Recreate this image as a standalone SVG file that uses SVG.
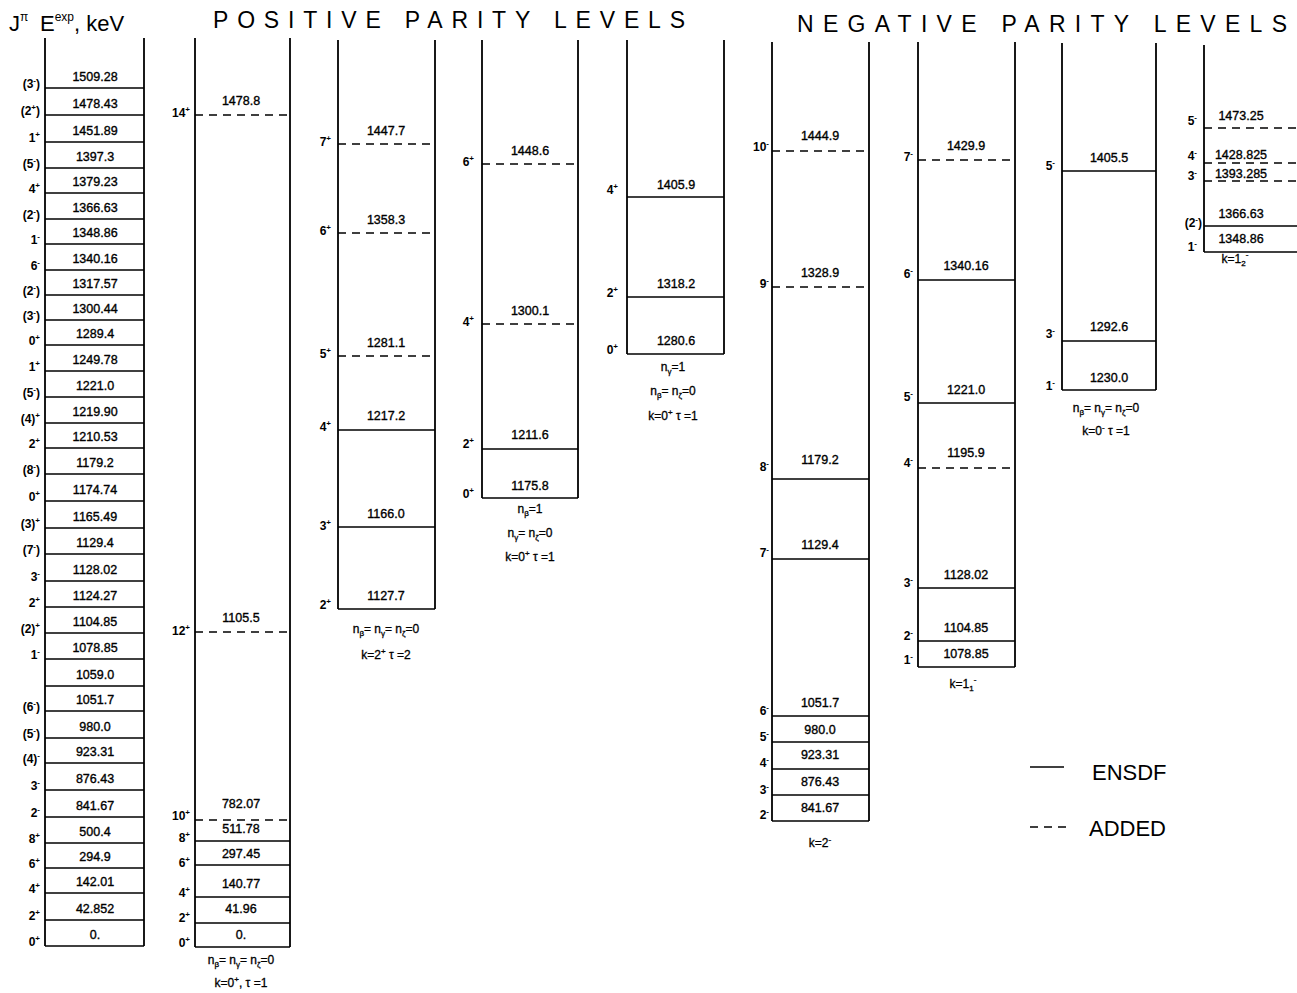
<svg xmlns="http://www.w3.org/2000/svg" width="1297" height="993" viewBox="0 0 1297 993">
<style>
.v{stroke:#000;stroke-width:1.8;fill:none}
.s{stroke:#000;stroke-width:1.6}
.d{stroke:#000;stroke-width:1.6;stroke-dasharray:8 6}
text{font-family:"Liberation Sans",Arial,sans-serif;fill:#000}
.e{font-size:12.5px;text-anchor:middle;stroke:#000;stroke-width:0.35}
.j{font-size:12px;font-weight:bold;text-anchor:end}
.b{font-size:12px;text-anchor:middle;stroke:#000;stroke-width:0.3}
.t{font-size:23px}
.h{font-size:22px}
.l{font-size:22px}
</style>
<rect width="1297" height="993" fill="#fff"/>
<g id="titles">
<text class="h" x="9" y="31">J<tspan dy="-10" font-size="12">π</tspan><tspan x="40" dy="10">E</tspan><tspan dy="-10" font-size="12">exp</tspan><tspan dy="10">, keV</tspan></text>
<text class="t" x="213" y="28" textLength="472" lengthAdjust="spacing">POSITIVE PARITY LEVELS</text>
<text class="t" x="797" y="32" textLength="490" lengthAdjust="spacing">NEGATIVE PARITY LEVELS</text>
</g>
<g id="experimental">
<line class="v" x1="45" y1="38" x2="45" y2="946"/>
<line class="v" x1="144" y1="38" x2="144" y2="946"/>
<g class="s">
<line x1="45" y1="88" x2="144" y2="88"/><line x1="45" y1="115" x2="144" y2="115"/><line x1="45" y1="142" x2="144" y2="142"/><line x1="45" y1="168" x2="144" y2="168"/><line x1="45" y1="193" x2="144" y2="193"/><line x1="45" y1="219" x2="144" y2="219"/><line x1="45" y1="244" x2="144" y2="244"/><line x1="45" y1="270" x2="144" y2="270"/><line x1="45" y1="295" x2="144" y2="295"/><line x1="45" y1="320" x2="144" y2="320"/><line x1="45" y1="345" x2="144" y2="345"/><line x1="45" y1="371" x2="144" y2="371"/><line x1="45" y1="397" x2="144" y2="397"/><line x1="45" y1="423" x2="144" y2="423"/><line x1="45" y1="448" x2="144" y2="448"/><line x1="45" y1="474" x2="144" y2="474"/><line x1="45" y1="501" x2="144" y2="501"/><line x1="45" y1="528" x2="144" y2="528"/><line x1="45" y1="554" x2="144" y2="554"/><line x1="45" y1="581" x2="144" y2="581"/><line x1="45" y1="607" x2="144" y2="607"/><line x1="45" y1="633" x2="144" y2="633"/><line x1="45" y1="659" x2="144" y2="659"/><line x1="45" y1="686" x2="144" y2="686"/><line x1="45" y1="711" x2="144" y2="711"/><line x1="45" y1="738" x2="144" y2="738"/><line x1="45" y1="763" x2="144" y2="763"/><line x1="45" y1="790" x2="144" y2="790"/><line x1="45" y1="817" x2="144" y2="817"/><line x1="45" y1="843" x2="144" y2="843"/><line x1="45" y1="868" x2="144" y2="868"/><line x1="45" y1="893" x2="144" y2="893"/><line x1="45" y1="920" x2="144" y2="920"/><line x1="45" y1="946" x2="144" y2="946"/>
</g>
<g class="e">
<text x="95" y="81">1509.28</text><text x="95" y="108">1478.43</text><text x="95" y="135">1451.89</text><text x="95" y="161">1397.3</text><text x="95" y="186">1379.23</text><text x="95" y="212">1366.63</text><text x="95" y="237">1348.86</text><text x="95" y="263">1340.16</text><text x="95" y="288">1317.57</text><text x="95" y="313">1300.44</text><text x="95" y="338">1289.4</text><text x="95" y="364">1249.78</text><text x="95" y="390">1221.0</text><text x="95" y="416">1219.90</text><text x="95" y="441">1210.53</text><text x="95" y="467">1179.2</text><text x="95" y="494">1174.74</text><text x="95" y="521">1165.49</text><text x="95" y="547">1129.4</text><text x="95" y="574">1128.02</text><text x="95" y="600">1124.27</text><text x="95" y="626">1104.85</text><text x="95" y="652">1078.85</text><text x="95" y="679">1059.0</text><text x="95" y="704">1051.7</text><text x="95" y="731">980.0</text><text x="95" y="756">923.31</text><text x="95" y="783">876.43</text><text x="95" y="810">841.67</text><text x="95" y="836">500.4</text><text x="95" y="861">294.9</text><text x="95" y="886">142.01</text><text x="95" y="913">42.852</text><text x="95" y="939">0.</text>
</g>
<g class="j">
<text x="40" y="88">(3<tspan dy="-5" font-size="8">-</tspan><tspan dy="5">)</tspan></text>
<text x="40" y="115">(2<tspan dy="-5" font-size="8">+</tspan><tspan dy="5">)</tspan></text>
<text x="40" y="142">1<tspan dy="-5" font-size="8">+</tspan></text>
<text x="40" y="168">(5<tspan dy="-5" font-size="8">-</tspan><tspan dy="5">)</tspan></text>
<text x="40" y="193">4<tspan dy="-5" font-size="8">+</tspan></text>
<text x="40" y="219">(2<tspan dy="-5" font-size="8">-</tspan><tspan dy="5">)</tspan></text>
<text x="40" y="244">1<tspan dy="-5" font-size="8">-</tspan></text>
<text x="40" y="270">6<tspan dy="-5" font-size="8">-</tspan></text>
<text x="40" y="295">(2<tspan dy="-5" font-size="8">-</tspan><tspan dy="5">)</tspan></text>
<text x="40" y="320">(3<tspan dy="-5" font-size="8">-</tspan><tspan dy="5">)</tspan></text>
<text x="40" y="345">0<tspan dy="-5" font-size="8">+</tspan></text>
<text x="40" y="371">1<tspan dy="-5" font-size="8">+</tspan></text>
<text x="40" y="397">(5<tspan dy="-5" font-size="8">-</tspan><tspan dy="5">)</tspan></text>
<text x="40" y="423">(4)<tspan dy="-5" font-size="8">+</tspan></text>
<text x="40" y="448">2<tspan dy="-5" font-size="8">+</tspan></text>
<text x="40" y="474">(8<tspan dy="-5" font-size="8">-</tspan><tspan dy="5">)</tspan></text>
<text x="40" y="501">0<tspan dy="-5" font-size="8">+</tspan></text>
<text x="40" y="528">(3)<tspan dy="-5" font-size="8">+</tspan></text>
<text x="40" y="554">(7<tspan dy="-5" font-size="8">-</tspan><tspan dy="5">)</tspan></text>
<text x="40" y="581">3<tspan dy="-5" font-size="8">-</tspan></text>
<text x="40" y="607">2<tspan dy="-5" font-size="8">+</tspan></text>
<text x="40" y="633">(2)<tspan dy="-5" font-size="8">+</tspan></text>
<text x="40" y="659">1<tspan dy="-5" font-size="8">-</tspan></text>
<text x="40" y="711">(6<tspan dy="-5" font-size="8">-</tspan><tspan dy="5">)</tspan></text>
<text x="40" y="738">(5<tspan dy="-5" font-size="8">-</tspan><tspan dy="5">)</tspan></text>
<text x="40" y="763">(4)<tspan dy="-5" font-size="8">-</tspan></text>
<text x="40" y="790">3<tspan dy="-5" font-size="8">-</tspan></text>
<text x="40" y="817">2<tspan dy="-5" font-size="8">-</tspan></text>
<text x="40" y="843">8<tspan dy="-5" font-size="8">+</tspan></text>
<text x="40" y="868">6<tspan dy="-5" font-size="8">+</tspan></text>
<text x="40" y="893">4<tspan dy="-5" font-size="8">+</tspan></text>
<text x="40" y="920">2<tspan dy="-5" font-size="8">+</tspan></text>
<text x="40" y="946">0<tspan dy="-5" font-size="8">+</tspan></text>
</g>
</g>
<g id="band-k0-ground">
<line class="v" x1="195" y1="38" x2="195" y2="947"/>
<line class="v" x1="290" y1="38" x2="290" y2="947"/>
<line class="d" x1="195" y1="115" x2="290" y2="115"/>
<line class="d" x1="195" y1="632" x2="290" y2="632"/>
<line class="d" x1="195" y1="820" x2="290" y2="820"/>
<line class="s" x1="195" y1="841" x2="290" y2="841"/>
<line class="s" x1="195" y1="865" x2="290" y2="865"/>
<line class="s" x1="195" y1="897" x2="290" y2="897"/>
<line class="s" x1="195" y1="923" x2="290" y2="923"/>
<line class="s" x1="195" y1="947" x2="290" y2="947"/>
<g class="e">
<text x="241" y="105">1478.8</text><text x="241" y="622">1105.5</text><text x="241" y="808">782.07</text><text x="241" y="833">511.78</text><text x="241" y="858">297.45</text><text x="241" y="888">140.77</text><text x="241" y="913">41.96</text><text x="241" y="939">0.</text>
</g>
<g class="j">
<text x="190" y="117">14<tspan dy="-5" font-size="8">+</tspan></text>
<text x="190" y="635">12<tspan dy="-5" font-size="8">+</tspan></text>
<text x="190" y="820">10<tspan dy="-5" font-size="8">+</tspan></text>
<text x="190" y="842">8<tspan dy="-5" font-size="8">+</tspan></text>
<text x="190" y="867">6<tspan dy="-5" font-size="8">+</tspan></text>
<text x="190" y="897">4<tspan dy="-5" font-size="8">+</tspan></text>
<text x="190" y="922">2<tspan dy="-5" font-size="8">+</tspan></text>
<text x="190" y="947">0<tspan dy="-5" font-size="8">+</tspan></text>
</g>
<g class="b">
<text x="241" y="964">n<tspan dy="3" font-size="8">β</tspan><tspan dy="-3">= n</tspan><tspan dy="3" font-size="8">γ</tspan><tspan dy="-3">= n</tspan><tspan dy="3" font-size="8">ζ</tspan><tspan dy="-3">=0</tspan></text>
<text x="241" y="987">k=0<tspan dy="-5" font-size="8">+</tspan><tspan dy="5">,  τ =1</tspan></text>
</g>
</g>
<g id="band-k2-gamma">
<line class="v" x1="338" y1="40" x2="338" y2="609"/>
<line class="v" x1="435" y1="40" x2="435" y2="609"/>
<line class="d" x1="338" y1="144" x2="435" y2="144"/>
<line class="d" x1="338" y1="233" x2="435" y2="233"/>
<line class="d" x1="338" y1="356" x2="435" y2="356"/>
<line class="s" x1="338" y1="430" x2="435" y2="430"/>
<line class="s" x1="338" y1="527" x2="435" y2="527"/>
<line class="s" x1="338" y1="609" x2="435" y2="609"/>
<g class="e">
<text x="386" y="135">1447.7</text><text x="386" y="224">1358.3</text><text x="386" y="347">1281.1</text><text x="386" y="420">1217.2</text><text x="386" y="518">1166.0</text><text x="386" y="600">1127.7</text>
</g>
<g class="j">
<text x="331" y="146">7<tspan dy="-5" font-size="8">+</tspan></text>
<text x="331" y="235">6<tspan dy="-5" font-size="8">+</tspan></text>
<text x="331" y="358">5<tspan dy="-5" font-size="8">+</tspan></text>
<text x="331" y="431">4<tspan dy="-5" font-size="8">+</tspan></text>
<text x="331" y="530">3<tspan dy="-5" font-size="8">+</tspan></text>
<text x="331" y="609">2<tspan dy="-5" font-size="8">+</tspan></text>
</g>
<g class="b">
<text x="386" y="633">n<tspan dy="3" font-size="8">β</tspan><tspan dy="-3">= n</tspan><tspan dy="3" font-size="8">γ</tspan><tspan dy="-3">= n</tspan><tspan dy="3" font-size="8">ζ</tspan><tspan dy="-3">=0</tspan></text>
<text x="386" y="659">k=2<tspan dy="-5" font-size="8">+</tspan><tspan dy="5">  τ =2</tspan></text>
</g>
</g>
<g id="band-k0-beta">
<line class="v" x1="482" y1="40" x2="482" y2="498"/>
<line class="v" x1="578" y1="40" x2="578" y2="498"/>
<line class="d" x1="482" y1="164" x2="578" y2="164"/>
<line class="d" x1="482" y1="324" x2="578" y2="324"/>
<line class="s" x1="482" y1="449" x2="578" y2="449"/>
<line class="s" x1="482" y1="498" x2="578" y2="498"/>
<g class="e">
<text x="530" y="155">1448.6</text><text x="530" y="315">1300.1</text><text x="530" y="439">1211.6</text><text x="530" y="490">1175.8</text>
</g>
<g class="j">
<text x="474" y="166">6<tspan dy="-5" font-size="8">+</tspan></text>
<text x="474" y="326">4<tspan dy="-5" font-size="8">+</tspan></text>
<text x="474" y="448">2<tspan dy="-5" font-size="8">+</tspan></text>
<text x="474" y="498">0<tspan dy="-5" font-size="8">+</tspan></text>
</g>
<g class="b">
<text x="530" y="513">n<tspan dy="3" font-size="8">β</tspan><tspan dy="-3">=1</tspan></text>
<text x="530" y="537">n<tspan dy="3" font-size="8">γ</tspan><tspan dy="-3">= n</tspan><tspan dy="3" font-size="8">ζ</tspan><tspan dy="-3">=0</tspan></text>
<text x="530" y="561">k=0<tspan dy="-5" font-size="8">+</tspan><tspan dy="5">  τ =1</tspan></text>
</g>
</g>
<g id="band-k0-gamma1">
<line class="v" x1="627" y1="40" x2="627" y2="354"/>
<line class="v" x1="724" y1="40" x2="724" y2="354"/>
<line class="s" x1="627" y1="197" x2="724" y2="197"/>
<line class="s" x1="627" y1="297" x2="724" y2="297"/>
<line class="s" x1="627" y1="354" x2="724" y2="354"/>
<g class="e">
<text x="676" y="189">1405.9</text><text x="676" y="288">1318.2</text><text x="676" y="345">1280.6</text>
</g>
<g class="j">
<text x="618" y="194">4<tspan dy="-5" font-size="8">+</tspan></text>
<text x="618" y="297">2<tspan dy="-5" font-size="8">+</tspan></text>
<text x="618" y="354">0<tspan dy="-5" font-size="8">+</tspan></text>
</g>
<g class="b">
<text x="673" y="371">n<tspan dy="3" font-size="8">γ</tspan><tspan dy="-3">=1</tspan></text>
<text x="673" y="395">n<tspan dy="3" font-size="8">β</tspan><tspan dy="-3">= n</tspan><tspan dy="3" font-size="8">ζ</tspan><tspan dy="-3">=0</tspan></text>
<text x="673" y="420">k=0<tspan dy="-5" font-size="8">+</tspan><tspan dy="5">  τ =1</tspan></text>
</g>
</g>
<g id="band-k2-minus">
<line class="v" x1="772" y1="42" x2="772" y2="821"/>
<line class="v" x1="869" y1="42" x2="869" y2="821"/>
<line class="d" x1="772" y1="151" x2="869" y2="151"/>
<line class="d" x1="772" y1="287" x2="869" y2="287"/>
<line class="s" x1="772" y1="479" x2="869" y2="479"/>
<line class="s" x1="772" y1="559" x2="869" y2="559"/>
<line class="s" x1="772" y1="716" x2="869" y2="716"/>
<line class="s" x1="772" y1="742" x2="869" y2="742"/>
<line class="s" x1="772" y1="769" x2="869" y2="769"/>
<line class="s" x1="772" y1="795" x2="869" y2="795"/>
<line class="s" x1="772" y1="821" x2="869" y2="821"/>
<g class="e">
<text x="820" y="140">1444.9</text><text x="820" y="277">1328.9</text><text x="820" y="464">1179.2</text><text x="820" y="549">1129.4</text><text x="820" y="707">1051.7</text><text x="820" y="734">980.0</text><text x="820" y="759">923.31</text><text x="820" y="786">876.43</text><text x="820" y="812">841.67</text>
</g>
<g class="j">
<text x="769" y="151">10<tspan dy="-5" font-size="8">-</tspan></text>
<text x="769" y="288">9<tspan dy="-5" font-size="8">-</tspan></text>
<text x="769" y="471">8<tspan dy="-5" font-size="8">-</tspan></text>
<text x="769" y="557">7<tspan dy="-5" font-size="8">-</tspan></text>
<text x="769" y="715">6<tspan dy="-5" font-size="8">-</tspan></text>
<text x="769" y="741">5<tspan dy="-5" font-size="8">-</tspan></text>
<text x="769" y="767">4<tspan dy="-5" font-size="8">-</tspan></text>
<text x="769" y="794">3<tspan dy="-5" font-size="8">-</tspan></text>
<text x="769" y="819">2<tspan dy="-5" font-size="8">-</tspan></text>
</g>
<g class="b">
<text x="820" y="847">k=2<tspan dy="-5" font-size="8">-</tspan></text>
</g>
</g>
<g id="band-k1-1">
<line class="v" x1="918" y1="42" x2="918" y2="667"/>
<line class="v" x1="1015" y1="42" x2="1015" y2="667"/>
<line class="d" x1="918" y1="160" x2="1015" y2="160"/>
<line class="s" x1="918" y1="280" x2="1015" y2="280"/>
<line class="s" x1="918" y1="403" x2="1015" y2="403"/>
<line class="d" x1="918" y1="468" x2="1015" y2="468"/>
<line class="s" x1="918" y1="588" x2="1015" y2="588"/>
<line class="s" x1="918" y1="641" x2="1015" y2="641"/>
<line class="s" x1="918" y1="667" x2="1015" y2="667"/>
<g class="e">
<text x="966" y="150">1429.9</text><text x="966" y="270">1340.16</text><text x="966" y="394">1221.0</text><text x="966" y="457">1195.9</text><text x="966" y="579">1128.02</text><text x="966" y="632">1104.85</text><text x="966" y="658">1078.85</text>
</g>
<g class="j">
<text x="913" y="161">7<tspan dy="-5" font-size="8">-</tspan></text>
<text x="913" y="278">6<tspan dy="-5" font-size="8">-</tspan></text>
<text x="913" y="401">5<tspan dy="-5" font-size="8">-</tspan></text>
<text x="913" y="467">4<tspan dy="-5" font-size="8">-</tspan></text>
<text x="913" y="587">3<tspan dy="-5" font-size="8">-</tspan></text>
<text x="913" y="640">2<tspan dy="-5" font-size="8">-</tspan></text>
<text x="913" y="664">1<tspan dy="-5" font-size="8">-</tspan></text>
</g>
<g class="b">
<text x="963" y="688">k=1<tspan dy="3" font-size="8">1</tspan><tspan dy="-9" font-size="8">-</tspan></text>
</g>
</g>
<g id="band-k0-minus">
<line class="v" x1="1062" y1="43" x2="1062" y2="390"/>
<line class="v" x1="1156" y1="43" x2="1156" y2="390"/>
<line class="s" x1="1062" y1="171" x2="1156" y2="171"/>
<line class="s" x1="1062" y1="341" x2="1156" y2="341"/>
<line class="s" x1="1062" y1="390" x2="1156" y2="390"/>
<g class="e">
<text x="1109" y="162">1405.5</text><text x="1109" y="331">1292.6</text><text x="1109" y="382">1230.0</text>
</g>
<g class="j">
<text x="1055" y="170">5<tspan dy="-5" font-size="8">-</tspan></text>
<text x="1055" y="338">3<tspan dy="-5" font-size="8">-</tspan></text>
<text x="1055" y="390">1<tspan dy="-5" font-size="8">-</tspan></text>
</g>
<g class="b">
<text x="1106" y="412">n<tspan dy="3" font-size="8">β</tspan><tspan dy="-3">= n</tspan><tspan dy="3" font-size="8">γ</tspan><tspan dy="-3">= n</tspan><tspan dy="3" font-size="8">ζ</tspan><tspan dy="-3">=0</tspan></text>
<text x="1106" y="435">k=0<tspan dy="-5" font-size="8">-</tspan><tspan dy="5">  τ =1</tspan></text>
</g>
</g>
<g id="band-k1-2">
<line class="v" x1="1204" y1="45" x2="1204" y2="252"/>
<line class="d" x1="1204" y1="128" x2="1297" y2="128"/>
<line class="d" x1="1204" y1="163" x2="1297" y2="163"/>
<line class="d" x1="1204" y1="181" x2="1297" y2="181"/>
<line class="s" x1="1204" y1="226" x2="1297" y2="226"/>
<line class="s" x1="1204" y1="252" x2="1297" y2="252"/>
<g class="e">
<text x="1241" y="120">1473.25</text><text x="1241" y="159">1428.825</text><text x="1241" y="178">1393.285</text><text x="1241" y="218">1366.63</text><text x="1241" y="243">1348.86</text>
</g>
<g class="j">
<text x="1197" y="125">5<tspan dy="-5" font-size="8">-</tspan></text>
<text x="1197" y="160">4<tspan dy="-5" font-size="8">-</tspan></text>
<text x="1197" y="180">3<tspan dy="-5" font-size="8">-</tspan></text>
<text x="1202" y="227">(2<tspan dy="-5" font-size="8">-</tspan><tspan dy="5">)</tspan></text>
<text x="1197" y="251">1<tspan dy="-5" font-size="8">-</tspan></text>
</g>
<g class="b">
<text x="1235" y="263">k=1<tspan dy="3" font-size="8">2</tspan><tspan dy="-9" font-size="8">-</tspan></text>
</g>
</g>
<g id="legend">
<line class="s" x1="1030" y1="767" x2="1064" y2="767"/>
<text class="l" x="1092" y="780">ENSDF</text>
<line class="d" x1="1030" y1="827" x2="1068" y2="827"/>
<text class="l" x="1089" y="836">ADDED</text>
</g>
</svg>
